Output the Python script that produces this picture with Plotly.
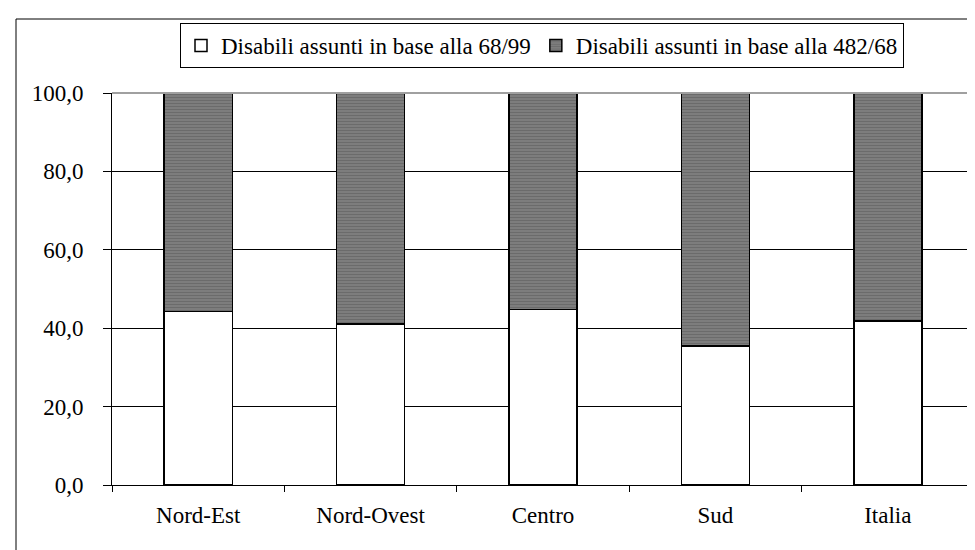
import plotly.graph_objects as go

categories = ["Nord-Est", "Nord-Ovest", "Centro", "Sud", "Italia"]
series_6899 = [44.3, 41.1, 44.8, 35.5, 41.8]
series_48268 = [55.7, 58.9, 55.2, 64.5, 58.2]
series_names = ["Disabili assunti in base alla 68/99", "Disabili assunti in base alla 482/68"]

FONT = "Liberation Serif"
FS = 23

fig = go.Figure()
fig.add_trace(go.Bar(
    x=categories, y=series_6899, name=series_names[0],
    marker=dict(color="white", line=dict(color="black", width=1.5)),
))
fig.add_trace(go.Bar(
    x=categories, y=series_48268, name=series_names[1],
    marker=dict(color="#6e6e6e", line=dict(color="black", width=1.5),
                pattern=dict(shape="-", size=3, solidity=0.45,
                             fgcolor="#565656", bgcolor="#808080")),
))

L, R, T, B = 104, 9, 85, 73
W, H = 975, 550
pw = W - L - R
ph = H - T - B

def px_x(p):
    return (p - L) / pw

def px_y(p):
    return (H - B - p) / ph

fig.update_layout(
    width=W, height=H,
    margin=dict(l=L, r=R, t=T, b=B),
    barmode="stack",
    bargap=0.605,
    paper_bgcolor="white",
    plot_bgcolor="white",
    separators=",.",
    font=dict(family=FONT, size=FS, color="black"),
    showlegend=True,
    legend=dict(
        orientation="h",
        x=px_x(172), y=px_y(15), xanchor="left", yanchor="top",
        bordercolor="black", borderwidth=1, bgcolor="white",
        font=dict(family=FONT, size=FS, color="black"),
        itemwidth=30, traceorder="normal",
    ),
    xaxis=dict(
        showline=True, linecolor="black", linewidth=1,
        ticks="outside", tickson="boundaries", ticklen=6, tickcolor="black",
        showgrid=False, mirror=False,
        ticklabelstandoff=9,
        tickfont=dict(family=FONT, size=FS),
    ),
    yaxis=dict(
        range=[0, 100], dtick=20, tickformat=".1f",
        showline=True, linecolor="black", linewidth=1,
        ticks="outside", ticklen=8, tickcolor="black",
        showgrid=True, gridcolor="black", gridwidth=1,
        zeroline=False,
        ticklabelstandoff=15,
        tickfont=dict(family=FONT, size=FS),
    ),
    shapes=[
        dict(type="line", xref="paper", yref="paper", x0=0, x1=1, y0=1, y1=1,
             line=dict(color="#a0a0a0", width=2)),
        dict(type="line", xref="paper", yref="paper", x0=1, x1=1, y0=0, y1=1,
             line=dict(color="#a0a0a0", width=2)),
        dict(type="line", xref="paper", yref="paper", x0=px_x(8), x1=px_x(8),
             y0=px_y(11), y1=px_y(552), line=dict(color="black", width=1)),
        dict(type="line", xref="paper", yref="paper", x0=px_x(8), x1=px_x(980),
             y0=px_y(11), y1=px_y(11), line=dict(color="black", width=1)),
    ],
)

fig.write_html("out.html")
